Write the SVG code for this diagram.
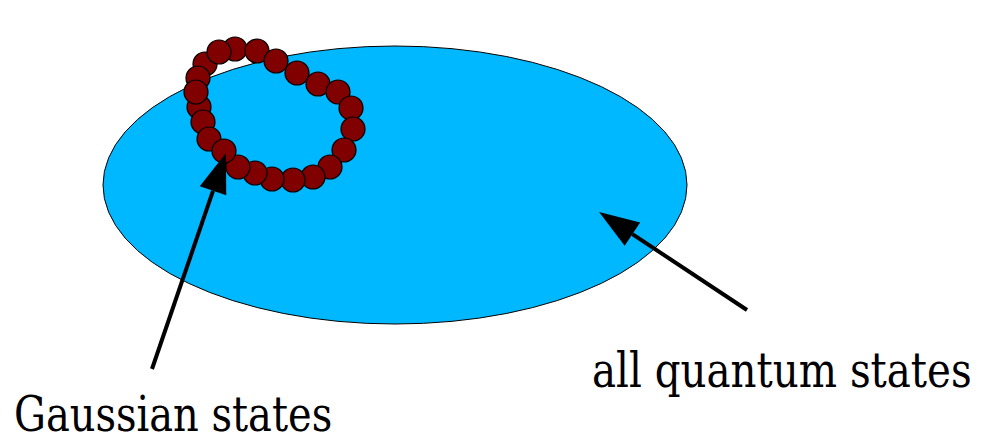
<svg xmlns="http://www.w3.org/2000/svg" width="981" height="442" viewBox="0 0 981 442">
  <style>
    .bead { fill: #800000; stroke: #000; stroke-width: 1.2; }
    .arr { stroke: #000; stroke-width: 4; fill: none; }
    .lbl { font-family: 'DejaVu Serif', 'Liberation Serif', serif; font-size: 48px; fill: #000; }
  </style>
  <defs>
    <marker id="ah" markerUnits="userSpaceOnUse" markerWidth="42" markerHeight="30" viewBox="0 -15 42 30" refX="0" refY="0" orient="auto" overflow="visible">
      <path d="M0,-14 L40,0 L0,14 Z" fill="#000"/>
    </marker>
  </defs>
  <rect width="981" height="442" fill="#fff"/>
  <g id="all-quantum-states">
    <ellipse cx="395" cy="185" rx="292" ry="139" fill="#00b8ff" stroke="#000" stroke-width="1"/>
  </g>
  <g id="gaussian-states">
    <circle class="bead" cx="235" cy="49" r="12"/>
    <circle class="bead" cx="257" cy="51" r="12"/>
    <circle class="bead" cx="276" cy="61" r="12"/>
    <circle class="bead" cx="297" cy="73" r="12"/>
    <circle class="bead" cx="318" cy="84" r="12"/>
    <circle class="bead" cx="338" cy="92" r="12"/>
    <circle class="bead" cx="351" cy="108" r="12"/>
    <circle class="bead" cx="353" cy="129" r="12"/>
    <circle class="bead" cx="344" cy="150" r="12"/>
    <circle class="bead" cx="330" cy="167" r="12"/>
    <circle class="bead" cx="313" cy="177" r="12"/>
    <circle class="bead" cx="293" cy="180" r="12"/>
    <circle class="bead" cx="272" cy="179" r="12"/>
    <circle class="bead" cx="255" cy="173" r="12"/>
    <circle class="bead" cx="238" cy="167" r="12"/>
    <circle class="bead" cx="205" cy="64" r="12"/>
    <circle class="bead" cx="219" cy="52" r="12"/>
    <circle class="bead" cx="198" cy="78" r="12"/>
    <circle class="bead" cx="199" cy="107" r="12"/>
    <circle class="bead" cx="196" cy="92" r="12"/>
    <circle class="bead" cx="203" cy="122" r="12"/>
    <circle class="bead" cx="209" cy="139" r="12"/>
    <circle class="bead" cx="224" cy="151" r="12"/>
  </g>
  <g id="connectors">
    <line class="arr" x1="152" y1="369" x2="213" y2="190.8" marker-end="url(#ah)"/>
    <line class="arr" x1="747" y1="310" x2="632.4" y2="234.1" marker-end="url(#ah)"/>
  </g>
  <g id="labels">
    <text class="lbl" transform="translate(14,431) scale(0.835,1)" x="0" y="0" textLength="381" lengthAdjust="spacingAndGlyphs">Gaussian states</text>
    <text class="lbl" transform="translate(592,387) scale(0.84,1)" x="0" y="0" textLength="452" lengthAdjust="spacingAndGlyphs">all quantum states</text>
  </g>
</svg>
